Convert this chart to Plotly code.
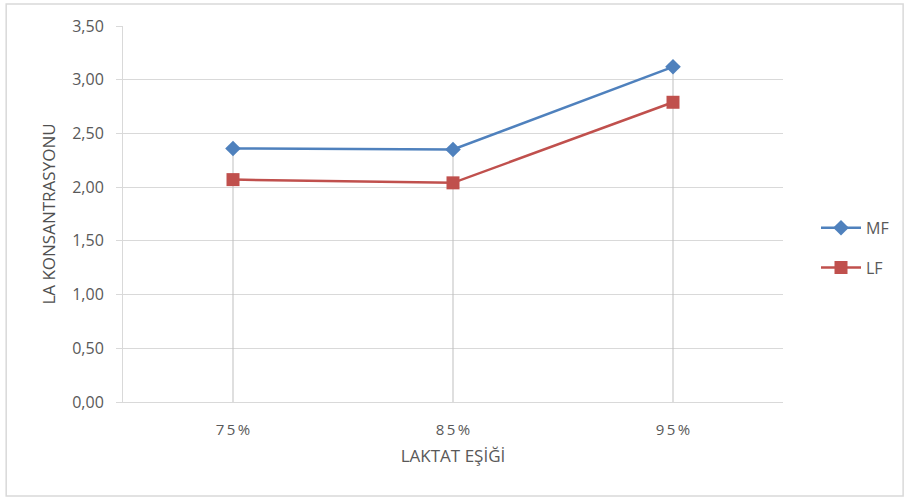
import plotly.graph_objects as go

# Lactate threshold categories and lactate concentration per group
categories = ["75%", "85%", "95%"]
tick_labels = ["7\u20095\u2009%", "8\u20095\u2009%", "9\u20095\u2009%"]
mf_values = [2.36, 2.35, 3.12]
lf_values = [2.07, 2.04, 2.79]

font_family = "Open Sans, sans-serif"
text_color = "#595959"
grid_color = "#d9d9d9"

fig = go.Figure()

# Vertical drop lines from the axis up to the highest point of each category
drop_x, drop_y = [], []
for c, a, b in zip(categories, mf_values, lf_values):
    drop_x += [c, c, None]
    drop_y += [0, max(a, b), None]
fig.add_trace(go.Scatter(
    x=drop_x, y=drop_y, mode="lines",
    line=dict(color="#bfbfbf", width=1),
    showlegend=False, hoverinfo="skip",
))

fig.add_trace(go.Scatter(
    x=categories, y=mf_values, name="MF", mode="lines+markers",
    legendgroup="mf",
    line=dict(color="#4f81bd", width=2.5),
    marker=dict(symbol="diamond", size=12, color="#4f81bd"),
))
fig.add_trace(go.Scatter(
    x=categories, y=lf_values, name="LF", mode="lines+markers",
    legendgroup="lf",
    line=dict(color="#c0504d", width=2.5),
    marker=dict(symbol="square", size=13, color="#c0504d"),
))

fig.update_layout(
    width=909, height=500,
    margin=dict(l=123, r=126, t=26, b=98),
    paper_bgcolor="white", plot_bgcolor="white",
    separators=",.",
    font=dict(family=font_family, color=text_color, size=15),
    legend=dict(
        x=1.05, xanchor="left", y=0.41, yanchor="middle",
        font=dict(size=16, color=text_color),
        traceorder="grouped", tracegroupgap=16, itemwidth=40,
    ),
    xaxis=dict(
        type="category", categoryorder="array", categoryarray=categories,
        tickvals=categories, ticktext=tick_labels,
        range=[-0.5, 2.5],
        showgrid=False, showline=True, linecolor=grid_color, linewidth=1,
        ticks="", ticklabelstandoff=14,
        tickfont=dict(size=15, color=text_color),
        title=dict(text="LAKTAT EŞİĞİ", font=dict(size=17, color=text_color), standoff=12),
    ),
    yaxis=dict(
        range=[0, 3.5], dtick=0.5, tickformat=".2f",
        showgrid=True, gridcolor=grid_color, gridwidth=1,
        showline=True, linecolor=grid_color, linewidth=1,
        ticks="outside", ticklen=6, tickcolor=grid_color,
        ticklabelstandoff=9,
        tickfont=dict(size=16, color=text_color),
        zeroline=False,
        title=dict(text="LA KONSANTRASYONU", font=dict(size=17, color="#505050"), standoff=12),
    ),
    shapes=[dict(
        type="rect", xref="paper", yref="paper",
        x0=-0.177, x1=1.182, y0=-0.25, y1=1.0585,
        line=dict(color=grid_color, width=1.5), fillcolor="rgba(0,0,0,0)",
        layer="below",
    )],
)

fig.write_html("out.html")
